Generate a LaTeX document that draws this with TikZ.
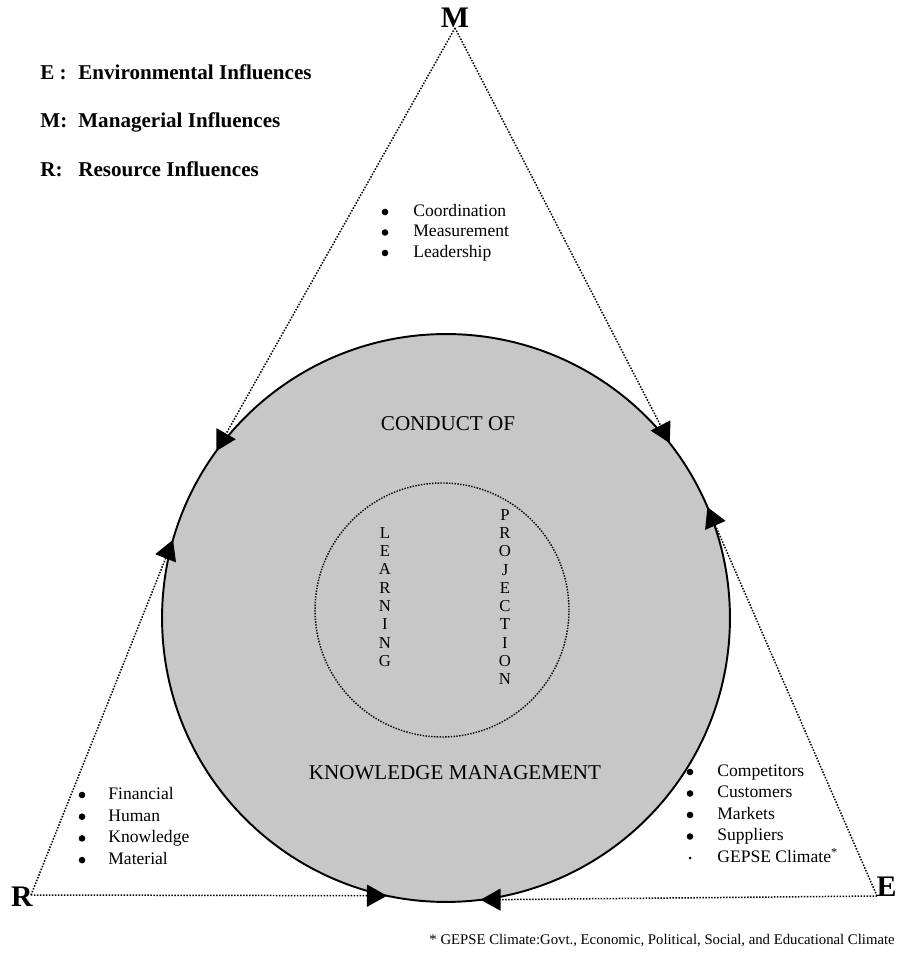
\documentclass[tikz,border=0pt]{standalone}
\usepackage{fontspec}
\setmainfont{Liberation Serif}
\usepackage{xcolor}
\usetikzlibrary{positioning, arrows.meta, shapes}

\begin{document}
\begin{tikzpicture}[x=0.02cm, y=0.02cm,
    influence/.style={line width=0.85pt, dash pattern=on 0.85pt off 0.85pt,
                      -{Triangle[length=4mm, width=4.4mm]}},
    vertex/.style={font=\fontsize{17}{20}\selectfont\bfseries, inner sep=0pt},
    legend/.style={anchor=base west, font=\fontsize{12}{14}\selectfont\bfseries, inner sep=0pt},
    item/.style={anchor=base west, font=\fontsize{10}{12}\selectfont, inner sep=0pt},
    caption/.style={font=\fontsize{12}{14}\selectfont, inner sep=0pt},
    letters/.style={align=center, font=\fontsize{9.5}{10.4}\selectfont, inner sep=0pt}]
    \useasboundingbox (0,0) rectangle (898,953);

    % --- Conduct of knowledge management ---
    \node[circle, draw, line width=1.1pt, fill=black!22, minimum size=11.36cm,
          inner sep=0pt, outer sep=0pt] (km) at (446,335) {};
    \node[circle, draw, line width=0.8pt, dash pattern=on 0.8pt off 0.8pt,
          minimum size=5.08cm, inner sep=0pt] (lp) at (442,343) {};
    \node[caption] (conduct) at (448,529) {CONDUCT OF};
    \node[caption] (kmtext) at (455,180) {KNOWLEDGE MANAGEMENT};
    \node[letters] (learn) at (385,356) {L\\E\\A\\R\\N\\I\\N\\G};
    \node[letters] (proj) at (505,356) {P\\R\\O\\J\\E\\C\\T\\I\\O\\N};

    % --- Triangle corners ---
    \coordinate (vM) at (455,925);
    \coordinate (vR) at (31,58);
    \coordinate (vE) at (877,57);
    \node[vertex, anchor=base] (M) at (455,925) {M};
    \node[vertex, anchor=base] (R) at (22,46) {R};
    \node[vertex, anchor=base east] (E) at (897,56) {E};

    % Influences pointing into the circle
    \draw[influence] (vM) -- (km.144.4);
    \draw[influence] (vM) -- (km.38.6);
    \draw[influence] (vR) -- (km.164.8);
    \draw[influence] (vR) -- (km.258.6);
    \draw[influence] (vE) -- (km.23.7);
    \draw[influence] (vE) -- (km.277.6);

    % --- Legend ---
    \node[legend] (legE) at (40,873) {\makebox[0.76cm][l]{E :}Environmental Influences};
    \node[legend] (legM) at (40,825) {\makebox[0.76cm][l]{M:}Managerial Influences};
    \node[legend] (legR) at (40,776) {\makebox[0.76cm][l]{R:}Resource Influences};

    % --- Bullet lists ---
    \foreach \t [count=\i] in {Coordination, Measurement, Leadership}{
        \fill (385,{761.5-20.5*\i}) circle (3.3);
        \node[item] (mgr\i) at (413,{757-20.5*\i}) {\t};
    }
    \foreach \t [count=\i] in {Financial, Human, Knowledge, Material}{
        \fill (82,{179.7-21.7*\i}) circle (3.3);
        \node[item] (res\i) at (108,{175.2-21.7*\i}) {\t};
    }
    \foreach \t [count=\i] in {Competitors, Customers, Markets, Suppliers}{
        \fill (690,{202.5-21.5*\i}) circle (3.3);
        \node[item] (env\i) at (717,{198-21.5*\i}) {\t};
    }
    \fill (690,95) circle (1.5);
    \node[item] (env5) at (717,90.5) {GEPSE Climate\textsuperscript{*}};

    % Footnote
    \node[anchor=base east, font=\fontsize{8.4}{10}\selectfont, inner sep=0pt] (note) at (895,9)
        {* GEPSE Climate:Govt., Economic, Political, Social, and Educational Climate};
\end{tikzpicture}
\end{document}
